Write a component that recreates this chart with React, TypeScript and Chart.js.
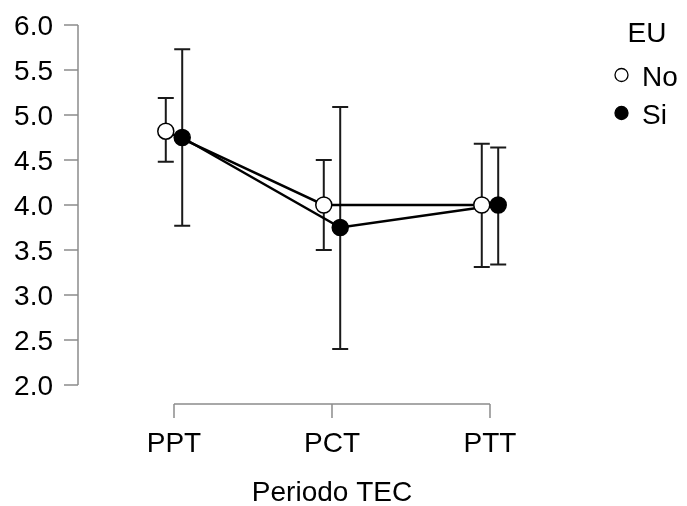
import React, { useEffect, useRef } from "react";
import { Chart, registerables } from "chart.js";

Chart.register(...registerables);

// Periods on the x axis
const categories = ["PPT", "PCT", "PTT"];

// Group "No"
const noMean = [4.82, 4.0, 4.0];
const noLower = [4.48, 3.5, 3.31];
const noUpper = [5.19, 4.5, 4.68];

// Group "Si"
const siMean = [4.75, 3.75, 4.0];
const siLower = [3.77, 2.4, 3.34];
const siUpper = [5.73, 5.09, 4.64];

const yTicks = [2.0, 2.5, 3.0, 3.5, 4.0, 4.5, 5.0, 5.5, 6.0];

const legendTitle = "EU";
const groupNames = ["No", "Si"];
const xTitle = "Periodo TEC";

const DODGE = 0.052;
const FONT = "'Liberation Sans', Arial, sans-serif";

const decoratePlugin = {
  id: "decorate",
  beforeDatasetsDraw(chart: any) {
    const ctx = chart.ctx;
    const xs = chart.scales.x;
    const ys = chart.scales.y;
    ctx.save();

    // error bars
    const groups = [
      { lo: noLower, hi: noUpper, off: -DODGE },
      { lo: siLower, hi: siUpper, off: DODGE },
    ];
    ctx.strokeStyle = "#1a1a1a";
    ctx.lineWidth = 2;
    ctx.lineCap = "butt";
    groups.forEach((g) => {
      categories.forEach((_, i) => {
        const px = xs.getPixelForValue(i + 1 + g.off);
        const pl = ys.getPixelForValue(g.lo[i]);
        const ph = ys.getPixelForValue(g.hi[i]);
        ctx.beginPath();
        ctx.moveTo(px, pl);
        ctx.lineTo(px, ph);
        ctx.moveTo(px - 8, pl);
        ctx.lineTo(px + 8, pl);
        ctx.moveTo(px - 8, ph);
        ctx.lineTo(px + 8, ph);
        ctx.stroke();
      });
    });

    // y axis, detached to the left of the plot
    const axX = 78;
    const yTop = ys.getPixelForValue(yTicks[yTicks.length - 1]);
    const yBot = ys.getPixelForValue(yTicks[0]);
    ctx.strokeStyle = "#8c8c8c";
    ctx.lineWidth = 1.5;
    ctx.beginPath();
    ctx.moveTo(axX, yTop);
    ctx.lineTo(axX, yBot);
    yTicks.forEach((t) => {
      const py = ys.getPixelForValue(t);
      ctx.moveTo(axX, py);
      ctx.lineTo(axX - 14, py);
    });
    ctx.stroke();

    ctx.fillStyle = "#000";
    ctx.font = `28px ${FONT}`;
    ctx.textAlign = "right";
    ctx.textBaseline = "alphabetic";
    yTicks.forEach((t) => {
      ctx.fillText(t.toFixed(1), 53, ys.getPixelForValue(t) + 10);
    });

    // x axis, detached below the plot
    const axY = 404;
    const x0 = xs.getPixelForValue(1);
    const x1 = xs.getPixelForValue(categories.length);
    ctx.beginPath();
    ctx.moveTo(x0, axY);
    ctx.lineTo(x1, axY);
    categories.forEach((_, i) => {
      const px = xs.getPixelForValue(i + 1);
      ctx.moveTo(px, axY);
      ctx.lineTo(px, axY + 14);
    });
    ctx.stroke();

    ctx.textAlign = "center";
    categories.forEach((c, i) => {
      ctx.fillText(c, xs.getPixelForValue(i + 1), 452);
    });
    ctx.fillText(xTitle, (x0 + x1) / 2, 501);

    // legend
    ctx.textAlign = "center";
    ctx.fillText(legendTitle, 647, 42);
    ctx.textAlign = "left";
    groupNames.forEach((n, i) => {
      const cy = 75 + i * 38;
      ctx.beginPath();
      ctx.arc(621.5, cy, 6.5, 0, Math.PI * 2);
      ctx.fillStyle = i === 0 ? "#fff" : "#000";
      ctx.fill();
      ctx.strokeStyle = "#000";
      ctx.lineWidth = 1.3;
      ctx.stroke();
      ctx.fillStyle = "#000";
      ctx.fillText(n, 642, cy + 11);
    });

    ctx.restore();
  },
};

export default function App() {
  const ref = useRef<HTMLCanvasElement>(null);

  useEffect(() => {
    document.body.style.margin = "0";
    const canvas = ref.current;
    if (!canvas) return;
    const chart = new Chart(canvas, {
      type: "line",
      data: {
        datasets: [
          {
            label: groupNames[0],
            data: noMean.map((v, i) => ({ x: i + 1 - DODGE, y: v })),
            borderColor: "#000",
            borderWidth: 2.5,
            pointRadius: 8,
            pointBorderWidth: 1.5,
            pointBackgroundColor: "#fff",
            pointBorderColor: "#000",
            fill: false,
          },
          {
            label: groupNames[1],
            data: siMean.map((v, i) => ({ x: i + 1 + DODGE, y: v })),
            borderColor: "#000",
            borderWidth: 2.5,
            pointRadius: 8,
            pointBorderWidth: 1.5,
            pointBackgroundColor: "#000",
            pointBorderColor: "#000",
            fill: false,
          },
        ],
      },
      options: {
        responsive: false,
        animation: false,
        layout: { padding: { left: 78, top: 25, right: 97, bottom: 121 } },
        plugins: { legend: { display: false }, tooltip: { enabled: false } },
        scales: {
          x: { type: "linear", display: false, min: 0.3924, max: 3.633 },
          y: { type: "linear", display: false, min: 2, max: 6 },
        },
      },
      plugins: [decoratePlugin],
    });
    return () => chart.destroy();
  }, []);

  return (
    <div style={{ position: "absolute", left: 0, top: 0, width: 687, height: 506, background: "#fff" }}>
      <canvas ref={ref} width={687} height={506} />
    </div>
  );
}
